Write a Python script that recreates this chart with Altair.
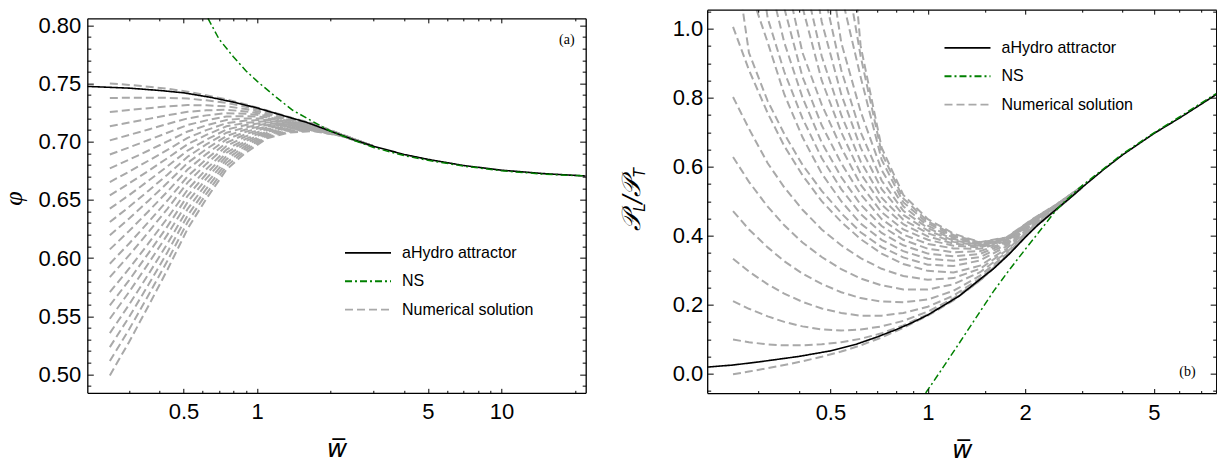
import altair as alt
import pandas as pd

# ---------------- panel (a): phi vs w-bar ----------------
A_ATT_X = [0.2022, 0.3, 0.4, 0.5, 0.65, 0.8, 1.0, 1.3, 1.6, 2.0, 2.5, 3.0, 4.0, 5.0, 7.0, 10.0, 15.0, 22.1]
A_ATT_Y = [0.7475, 0.7460, 0.7440, 0.7420, 0.7380, 0.7340, 0.7290, 0.7220, 0.7165, 0.7090, 0.7015, 0.6960,
           0.6890, 0.6848, 0.6795, 0.6755, 0.6725, 0.6705]
A_NS_X = [0.63, 0.7, 0.8, 0.9, 1.0, 1.2, 1.4, 1.7, 2.0, 2.5, 3.0, 4.0, 5.0, 7.0, 10.0, 15.0, 22.1]
A_NS_Y = [0.806, 0.788, 0.773, 0.761, 0.752, 0.738, 0.727, 0.717, 0.709, 0.701, 0.695, 0.688, 0.684,
          0.679, 0.675, 0.672, 0.6705]
A_NUM_X = [0.25, 0.3, 0.36, 0.43, 0.52, 0.62, 0.75, 0.9, 1.1, 1.35, 1.7, 2.2, 3.0]
A_NUM_Y = [
    [0.7500, 0.7488, 0.7472, 0.7455, 0.7430, 0.7399, 0.7363, 0.7320, 0.7268, 0.7212, 0.7156, 0.7065, 0.6960],
    [0.7375, 0.7378, 0.7378, 0.7377, 0.7371, 0.7355, 0.7333, 0.7300, 0.7256, 0.7205, 0.7153, 0.7064, 0.6960],
    [0.7255, 0.7273, 0.7288, 0.7303, 0.7315, 0.7312, 0.7304, 0.7280, 0.7245, 0.7199, 0.7149, 0.7064, 0.6960],
    [0.7132, 0.7164, 0.7196, 0.7227, 0.7257, 0.7269, 0.7274, 0.7260, 0.7233, 0.7192, 0.7146, 0.7063, 0.6960],
    [0.7011, 0.7058, 0.7105, 0.7152, 0.7200, 0.7226, 0.7245, 0.7240, 0.7222, 0.7186, 0.7143, 0.7062, 0.6960],
    [0.6890, 0.6951, 0.7014, 0.7077, 0.7143, 0.7183, 0.7216, 0.7220, 0.7210, 0.7179, 0.7140, 0.7062, 0.6960],
    [0.6770, 0.6846, 0.6924, 0.7002, 0.7087, 0.7140, 0.7187, 0.7200, 0.7199, 0.7173, 0.7137, 0.7061, 0.6960],
    [0.6653, 0.6743, 0.6837, 0.6930, 0.7032, 0.7099, 0.7159, 0.7181, 0.7188, 0.7167, 0.7134, 0.7060, 0.6960],
    [0.6538, 0.6642, 0.6750, 0.6858, 0.6978, 0.7058, 0.7132, 0.7162, 0.7177, 0.7161, 0.7131, 0.7059, 0.6960],
    [0.6424, 0.6541, 0.6665, 0.6788, 0.6924, 0.7017, 0.7104, 0.7143, 0.7166, 0.7155, 0.7128, 0.7059, 0.6960],
    [0.6309, 0.6440, 0.6579, 0.6716, 0.6870, 0.6977, 0.7077, 0.7124, 0.7155, 0.7149, 0.7125, 0.7058, 0.6960],
    [0.6195, 0.6340, 0.6493, 0.6646, 0.6817, 0.6936, 0.7049, 0.7105, 0.7144, 0.7143, 0.7122, 0.7057, 0.6960],
    [0.6074, 0.6233, 0.6402, 0.6571, 0.6760, 0.6893, 0.7020, 0.7085, 0.7133, 0.7136, 0.7119, 0.7057, 0.6960],
    [0.5951, 0.6125, 0.6310, 0.6494, 0.6702, 0.6849, 0.6991, 0.7065, 0.7121, 0.7130, 0.7116, 0.7056, 0.6960],
    [0.5836, 0.6024, 0.6224, 0.6423, 0.6648, 0.6809, 0.6963, 0.7046, 0.7110, 0.7124, 0.7113, 0.7055, 0.6960],
    [0.5707, 0.5910, 0.6127, 0.6343, 0.6587, 0.6763, 0.6932, 0.7024, 0.7098, 0.7117, 0.7109, 0.7054, 0.6960],
    [0.5593, 0.5810, 0.6042, 0.6272, 0.6534, 0.6722, 0.6905, 0.7006, 0.7087, 0.7111, 0.7106, 0.7054, 0.6960],
    [0.5478, 0.5709, 0.5955, 0.6201, 0.6480, 0.6682, 0.6877, 0.6987, 0.7076, 0.7105, 0.7103, 0.7053, 0.6960],
    [0.5354, 0.5600, 0.5862, 0.6124, 0.6421, 0.6638, 0.6848, 0.6966, 0.7064, 0.7098, 0.7100, 0.7052, 0.6960],
    [0.5234, 0.5494, 0.5772, 0.6050, 0.6365, 0.6595, 0.6819, 0.6946, 0.7053, 0.7092, 0.7097, 0.7052, 0.6960],
    [0.5114, 0.5388, 0.5682, 0.5976, 0.6309, 0.6552, 0.6790, 0.6927, 0.7041, 0.7085, 0.7094, 0.7051, 0.6960],
    [0.4991, 0.5280, 0.5590, 0.5899, 0.6251, 0.6509, 0.6761, 0.6906, 0.7030, 0.7079, 0.7091, 0.7050, 0.6960],
]

# ---------------- panel (b): P_L/P_T vs w-bar ----------------
B_ATT_X = [0.208, 0.25, 0.3, 0.4, 0.5, 0.6, 0.7, 0.8, 0.9, 1.0, 1.25, 1.4, 1.6, 1.8, 2.0, 2.2, 2.45, 2.8,
           3.0, 3.5, 4.0, 5.0, 6.0, 7.79]
B_ATT_Y = [0.019, 0.025, 0.034, 0.050, 0.066, 0.085, 0.107, 0.128, 0.149, 0.170, 0.225, 0.262, 0.305, 0.350,
           0.395, 0.433, 0.470, 0.515, 0.540, 0.592, 0.634, 0.696, 0.741, 0.809]
B_NS_X = [0.985, 1.1, 1.25, 1.4, 1.6, 1.8, 2.0, 2.3, 2.45, 2.6, 3.0, 4.0, 5.0, 6.0, 7.79]
B_NS_Y = [-0.056, 0.010, 0.088, 0.158, 0.240, 0.305, 0.360, 0.432, 0.465, 0.492, 0.545, 0.637, 0.698, 0.744,
          0.812]
B_NUM_X = [0.25, 0.28, 0.32, 0.36, 0.41, 0.47, 0.54, 0.62, 0.72, 0.84, 1.0, 1.2, 1.45, 1.75, 2.1, 2.5, 3.0]
N = None
B_NUM_Y = [
    [-0.002, 0.006, 0.016, 0.025, 0.036, 0.049, 0.064, 0.082, 0.105, 0.133, 0.168, 0.212, 0.270, 0.339, 0.418, 0.476, 0.540],
    [0.099, 0.091, 0.085, 0.082, 0.082, 0.085, 0.091, 0.101, 0.117, 0.140, 0.172, 0.214, 0.270, 0.339, 0.418, 0.476, 0.540],
    [0.210, 0.188, 0.166, 0.150, 0.137, 0.128, 0.125, 0.128, 0.137, 0.153, 0.180, 0.218, 0.272, 0.340, 0.418, 0.476, 0.540],
    [0.333, 0.296, 0.259, 0.232, 0.208, 0.189, 0.176, 0.168, 0.168, 0.176, 0.194, 0.226, 0.276, 0.342, 0.419, 0.477, 0.540],
    [0.471, 0.418, 0.366, 0.326, 0.290, 0.260, 0.236, 0.219, 0.209, 0.207, 0.215, 0.240, 0.284, 0.346, 0.420, 0.477, 0.540],
    [0.628, 0.556, 0.484, 0.430, 0.380, 0.338, 0.303, 0.276, 0.256, 0.244, 0.244, 0.259, 0.294, 0.351, 0.422, 0.478, 0.540],
    [0.802, 0.710, 0.610, 0.540, 0.475, 0.418, 0.372, 0.335, 0.304, 0.283, 0.272, 0.277, 0.304, 0.357, 0.424, 0.479, 0.541],
    [1.005, 0.880, 0.755, 0.660, 0.575, 0.500, 0.440, 0.390, 0.348, 0.318, 0.298, 0.293, 0.313, 0.362, 0.426, 0.480, 0.541],
    [1.250, 0.930, 0.790, 0.695, 0.605, 0.530, 0.465, 0.410, 0.367, 0.337, 0.316, 0.312, 0.328, 0.369, 0.429, 0.481, 0.541],
    [N, 1.120, 0.960, 0.810, 0.685, 0.580, 0.500, 0.435, 0.388, 0.355, 0.333, 0.327, 0.338, 0.374, 0.431, 0.482, 0.541],
    [N, 1.400, 1.030, 0.875, 0.740, 0.625, 0.535, 0.463, 0.408, 0.372, 0.348, 0.340, 0.347, 0.378, 0.433, 0.483, 0.542],
    [N, N, 1.158, 0.960, 0.800, 0.670, 0.570, 0.490, 0.428, 0.388, 0.362, 0.352, 0.355, 0.381, 0.435, 0.484, 0.542],
    [N, N, N, 1.060, 0.860, 0.720, 0.610, 0.520, 0.448, 0.403, 0.376, 0.363, 0.362, 0.384, 0.437, 0.485, 0.542],
    [N, N, N, 1.167, 0.930, 0.780, 0.655, 0.548, 0.468, 0.418, 0.388, 0.371, 0.366, 0.386, 0.439, 0.486, 0.542],
    [N, N, N, N, 1.062, 0.850, 0.700, 0.580, 0.490, 0.433, 0.398, 0.377, 0.369, 0.388, 0.440, 0.487, 0.542],
    [N, N, N, N, 1.165, 0.920, 0.750, 0.615, 0.510, 0.446, 0.407, 0.382, 0.371, 0.389, 0.441, 0.488, 0.543],
    [N, N, N, N, 1.340, 1.020, 0.810, 0.655, 0.535, 0.460, 0.415, 0.386, 0.373, 0.390, 0.442, 0.488, 0.543],
    [N, N, N, N, N, 1.135, 0.880, 0.700, 0.560, 0.472, 0.422, 0.390, 0.375, 0.391, 0.443, 0.489, 0.543],
    [N, N, N, N, N, 1.330, 0.960, 0.760, 0.590, 0.485, 0.429, 0.394, 0.377, 0.392, 0.444, 0.489, 0.543],
    [N, N, N, N, N, N, 1.100, 0.860, 0.620, 0.497, 0.436, 0.398, 0.379, 0.393, 0.445, 0.490, 0.543],
    [N, N, N, N, N, N, 1.250, 0.920, 0.640, 0.508, 0.442, 0.402, 0.380, 0.394, 0.446, 0.490, 0.543],
    [N, N, N, N, N, N, 1.590, 0.950, 0.655, 0.518, 0.448, 0.406, 0.381, 0.395, 0.447, 0.491, 0.543],
]

KINDS = ["aHydro attractor", "NS", "Numerical solution"]
COLORS = ["#000000", "#008000", "#a9a9a9"]
DASHES = [[1, 0], [7, 3, 2, 3], [8, 4]]

A_X_MAJOR = [0.5, 1, 5, 10]
A_X_MINOR = [0.3, 0.4, 0.6, 0.7, 0.8, 0.9, 2, 3, 4, 6, 7, 8, 9, 20]
A_Y_MAJOR = [0.50, 0.55, 0.60, 0.65, 0.70, 0.75, 0.80]
A_Y_MINOR = [0.49, 0.51, 0.52, 0.53, 0.54, 0.56, 0.57, 0.58, 0.59, 0.61, 0.62, 0.63, 0.64, 0.66, 0.67,
             0.68, 0.69, 0.71, 0.72, 0.73, 0.74, 0.76, 0.77, 0.78, 0.79]
B_X_MAJOR = [0.5, 1, 2, 5]
B_X_MINOR = [0.3, 0.4, 0.6, 0.7, 0.8, 0.9, 1.5, 3, 4, 6, 7]
B_Y_MAJOR = [0.0, 0.2, 0.4, 0.6, 0.8, 1.0]
B_Y_MINOR = [-0.05, 0.05, 0.1, 0.15, 0.25, 0.3, 0.35, 0.45, 0.5, 0.55, 0.65, 0.7, 0.75, 0.85, 0.9, 0.95, 1.05]

PANEL_TAGS = ["(a)", "(b)"]

FONT = "Liberation Sans"


# ---------------- helpers ----------------
def series_df(xs, ys, kind):
    return pd.DataFrame({"x": xs, "y": ys, "kind": kind})


def runs_df(xs, ys_list, kind):
    rows = []
    for i, ys in enumerate(ys_list):
        for x, y in zip(xs, ys):
            if y is not None:
                rows.append({"x": x, "y": y, "run": i, "kind": kind})
    return pd.DataFrame(rows)


def tick_axis(orient, values, size, offset, domain=False):
    return alt.Axis(orient=orient, values=values, tickSize=size, offset=offset, labels=False,
                    domain=domain, domainColor="black", domainWidth=1.3, ticks=True,
                    tickColor="black", tickWidth=1, grid=False, title=None, zindex=2)


def panel(att, ns, num, xdom, ydom, W, H, top, xmaj, xmin, ymaj, ymin, yfmt, legx, legy,
          tag_x, tag_y, tag, ytitle, ylabpad):
    # plot frame spans y pixels [top, H] of the group
    xs = alt.Scale(type="log", domain=xdom, nice=False, zero=False)
    ys = alt.Scale(domain=ydom, nice=False, zero=False, range=[H, top])
    leg = alt.Legend(title=None, orient="none", legendX=legx, legendY=legy, symbolType="stroke",
                     symbolSize=46 * 46, symbolStrokeWidth=1.8, clipHeight=16, rowPadding=12.4,
                     labelOffset=10, labelFont=FONT, labelFontSize=16, labelColor="black",
                     labelLimit=400, padding=0)
    color = alt.Color("kind:N", scale=alt.Scale(domain=KINDS, range=COLORS), legend=leg)
    dash = alt.StrokeDash("kind:N", scale=alt.Scale(domain=KINDS, range=DASHES), legend=leg)

    main_x = alt.Axis(orient="bottom", values=xmaj, format="~g", ticks=False, tickSize=0,
                      domain=True, domainColor="black", domainWidth=1.3, grid=False,
                      labelFont=FONT, labelFontSize=22, labelColor="black", labelPadding=9,
                      labelFlush=False, labelOverlap=False,
                      title="w\u0305", titleFont="DejaVu Sans", titleFontSize=25,
                      titleFontStyle="italic", titleFontWeight="normal", titleColor="black",
                      titleBaseline="bottom", titleY=69, titleX=W / 2, titleAlign="center")
    y_kw = dict(orient="left", values=ymaj, format=yfmt, ticks=False, tickSize=0, domain=True,
                domainColor="black", domainWidth=1.3, grid=False, labelFont=FONT,
                labelFontSize=22, labelColor="black", labelPadding=ylabpad, labelFlush=False,
                labelOverlap=False)
    if ytitle is not None:
        y_kw.update(title=ytitle, titleFont="Liberation Serif", titleFontSize=26,
                    titleFontStyle="italic", titleFontWeight="normal", titleColor="black",
                    titleAngle=270, titleX=-74.3, titleY=188.5, titleBaseline="middle",
                    titleAlign="center")
    else:
        y_kw.update(title=None)
    main_y = alt.Axis(**y_kw)

    gray = alt.Chart(num).mark_line(strokeWidth=2, clip=True).encode(
        x=alt.X("x:Q", scale=xs, axis=main_x),
        y=alt.Y("y:Q", scale=ys, axis=main_y),
        detail="run:N", color=color, strokeDash=dash)
    black = alt.Chart(att).mark_line(strokeWidth=1.6, clip=True).encode(
        x=alt.X("x:Q", scale=xs, axis=tick_axis("top", xmaj, 4.5, -H)),
        y=alt.Y("y:Q", scale=ys, axis=tick_axis("right", ymaj, 6, -W)),
        color=color, strokeDash=dash)
    green = alt.Chart(ns).mark_line(strokeWidth=1.5, clip=True).encode(
        x=alt.X("x:Q", scale=xs, axis=tick_axis("top", xmin, 2.5, -H)),
        y=alt.Y("y:Q", scale=ys, axis=tick_axis("right", ymin, 3.5, -W)),
        color=color, strokeDash=dash)
    tagdf = pd.DataFrame({"x": [tag_x], "y": [tag_y], "t": [tag]})
    tagc = alt.Chart(tagdf).mark_text(font="Liberation Serif", fontSize=14, color="black",
                                      align="center", baseline="middle").encode(
        x=alt.X("x:Q", scale=xs, axis=tick_axis("bottom", xmaj, 4.5, -(H - top), domain=True)),
        y=alt.Y("y:Q", scale=ys, axis=tick_axis("left", ymaj, 6, -W, domain=True)),
        text="t:N")
    ghost = alt.Chart(att).mark_line(opacity=0).encode(
        x=alt.X("x:Q", scale=xs, axis=tick_axis("bottom", xmin, 2.5, -(H - top))),
        y=alt.Y("y:Q", scale=ys, axis=tick_axis("left", ymin, 3.5, -W)))
    return [gray, black, green, tagc, ghost]


A_W, A_H, A_TOP = 498.4, 383.2, 8.7
B_W, B_H = 509.0, 383.4

left_layers = panel(series_df(A_ATT_X, A_ATT_Y, KINDS[0]), series_df(A_NS_X, A_NS_Y, KINDS[1]),
                    runs_df(A_NUM_X, A_NUM_Y, KINDS[2]), [0.2022, 22.1], [0.4841, 0.8060],
                    A_W, A_H, A_TOP, A_X_MAJOR, A_X_MINOR, A_Y_MAJOR, A_Y_MINOR, ".2f",
                    256.7, 235.2, 18.5, 0.7877, PANEL_TAGS[0], "\u03c6", 6.5)
left = alt.layer(*left_layers).properties(width=A_W, height=A_H)

right_layers = panel(series_df(B_ATT_X, B_ATT_Y, KINDS[0]), series_df(B_NS_X, B_NS_Y, KINDS[1]),
                     runs_df(B_NUM_X, B_NUM_Y, KINDS[2]), [0.208, 7.79], [-0.0562, 1.0551],
                     B_W, B_H, 0, B_X_MAJOR, B_X_MINOR, B_Y_MAJOR, B_Y_MINOR, ".1f",
                     236.3, 30.2, 6.35, 0.005, PANEL_TAGS[1], None, 4.5)

# composite y title  P_L / P_T (rotated)
YT_PIECES = [("\U0001D4AB", 26, -66.7, 221.7), ("L", 15, -61.7, 202.2), ("/", 24, -66.7, 193.9),
             ("\U0001D4AB", 26, -66.7, 187.2), ("T", 15, -61.7, 167.7)]
title_layers = []
for txt, fs, px, py in YT_PIECES:
    title_layers.append(
        alt.Chart(pd.DataFrame({"k": [0]})).mark_text(
            font="DejaVu Sans", fontSize=fs, fontStyle="italic", color="black", angle=270,
            align="left", baseline="alphabetic").encode(
            x=alt.value(px), y=alt.value(py), text=alt.value(txt)))
right = alt.layer(*right_layers, *title_layers).properties(width=B_W, height=B_H)

chart = alt.hconcat(left, right, spacing=32.9).resolve_legend(
    color="independent", strokeDash="independent"
).properties(
    padding={"left": -0.7, "top": 8.65, "right": 0, "bottom": 0},
    background="white",
).configure_view(strokeWidth=0)

chart.save("out.html", embed_options={"renderer": "svg", "actions": False})
